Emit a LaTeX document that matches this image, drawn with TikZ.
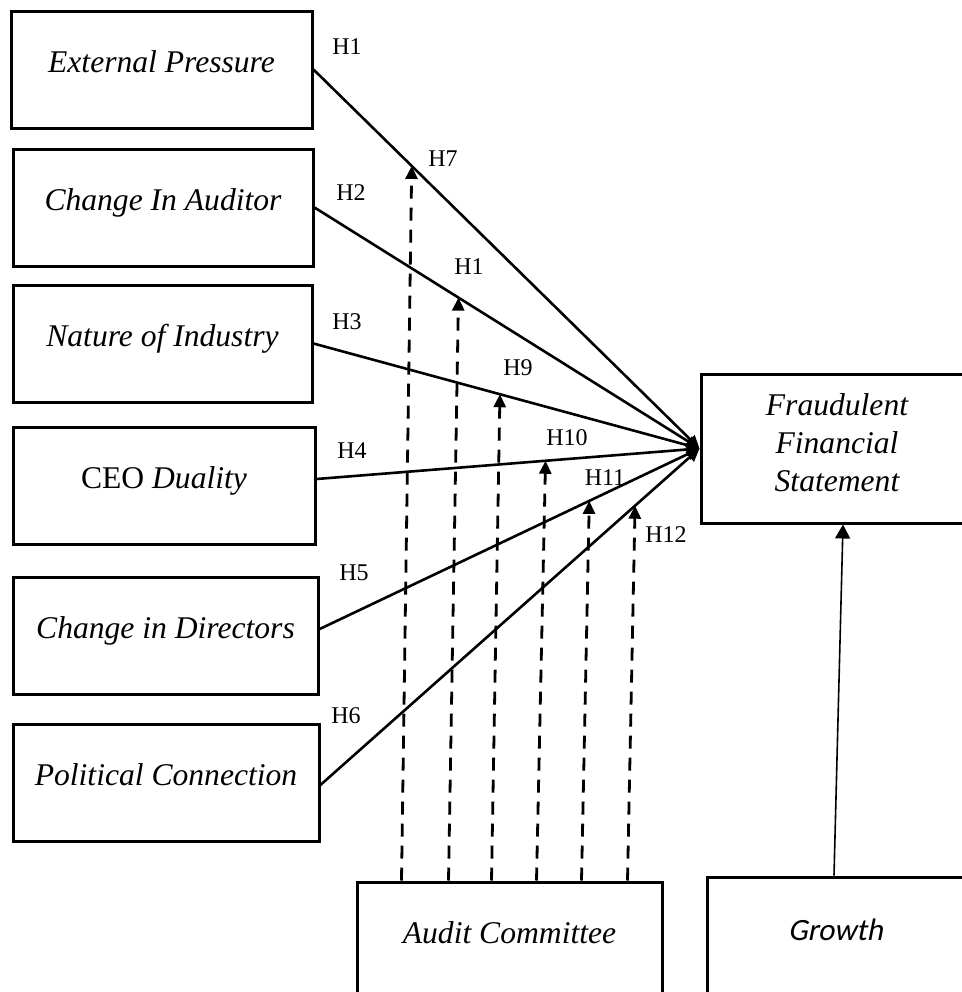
\documentclass[tikz,border=0pt]{standalone}
\usepackage{fontspec}
\setmainfont{Liberation Serif}
\newfontfamily\growthfont[FakeSlant=0.2]{Carlito}
\usepackage{tikz}
\usetikzlibrary{arrows.meta,calc}

\tikzset{
    var/.style={draw, rectangle, line width=1.5pt, minimum height=58.5pt, inner sep=0pt},
    vartext/.style={font=\fontsize{15.8}{19}\selectfont\itshape, text height=11pt, text depth=3.5pt, inner sep=0pt},
    hyp/.style={font=\fontsize{12}{14}\selectfont, inner sep=0pt},
    link/.style={line width=1.3pt, -{Triangle[length=6.5pt,width=6pt]}},
    modlink/.style={line width=1.4pt, dash pattern=on 6.5pt off 4.5pt, -{Triangle[length=6.5pt,width=6pt]}}
}

\begin{document}
\begin{tikzpicture}[x=0.5pt, y=-0.5pt]
    \useasboundingbox (0,0) rectangle (962,992);
    \clip (0,0) rectangle (962,992);

    % Independent variables
    \node [var, minimum width=150.5pt] (ext) at (161.5,69.5) {};
    \node [vartext] (extT) at ([yshift=2.5pt]ext.center) {External Pressure};
    \node [var, minimum width=150pt] (aud) at (163,207.5) {};
    \node [vartext] (audT) at ([yshift=2.5pt]aud.center) {Change In Auditor};
    \node [var, minimum width=149.5pt] (nat) at (162.5,343.5) {};
    \node [vartext] (natT) at ([yshift=2.5pt]nat.center) {Nature of Industry};
    \node [var, minimum width=151pt] (ceo) at (164,486) {};
    \node [vartext] (ceoT) at ([yshift=2.5pt]ceo.center) {\upshape CEO \itshape Duality};
    \node [var, minimum width=152.5pt] (dir) at (165.5,635.5) {};
    \node [vartext] (dirT) at ([yshift=2.5pt]dir.center) {Change in Directors};
    \node [var, minimum width=153pt] (pol) at (166,782.5) {};
    \node [vartext] (polT) at ([yshift=2.5pt]pol.center) {Political Connection};

    % Dependent variable
    \node [var, minimum width=136pt, minimum height=74.5pt] (fin) at (837,448.5) {};
    \node [vartext, text height=, text depth=, align=center] (finT) at ([yshift=2.9pt]fin.center) {Fraudulent\\Financial\\Statement};

    % Moderator and control
    \node [var, minimum width=152.5pt] (com) at (509.5,940.5) {};
    \node [vartext] (comT) at ([yshift=2.5pt]com.center) {Audit Committee};
    \node [var, minimum width=128.5pt] (gro) at (835.5,935.5) {};
    \node [vartext, font=\fontsize{15.5}{19}\selectfont\growthfont] (groT) at ([yshift=1.5pt]gro.center) {Growth};

    % Direct paths
    \coordinate (s1) at (ext.east);
    \coordinate (s2) at (aud.east);
    \coordinate (s3) at (nat.east);
    \coordinate (s4) at ([yshift=3.5pt]ceo.east);
    \coordinate (s5) at ([yshift=3.2pt]dir.east);
    \coordinate (s6) at ([yshift=-1.2pt]pol.east);
    \draw [link] (s1) -- (fin.west);
    \draw [link] (s2) -- (fin.west);
    \draw [link] (s3) -- (fin.west);
    \draw [link] (s4) -- (fin.west);
    \draw [link] (s5) -- (fin.west);
    \draw [link] (s6) -- (fin.west);

    % Moderating paths
    \coordinate (m7) at ($(s1)!0.2545!(fin.west)$);
    \coordinate (m8) at ($(s2)!0.374!(fin.west)$);
    \coordinate (m9) at ($(s3)!0.483!(fin.west)$);
    \coordinate (m10) at ($(s4)!0.598!(fin.west)$);
    \coordinate (m11) at ($(s5)!0.710!(fin.west)$);
    \coordinate (m12) at ($(s6)!0.830!(fin.west)$);
    \draw [modlink] ([xshift=23pt]com.north west) -- (m7);
    \draw [modlink] ([xshift=46.5pt]com.north west) -- (m8);
    \draw [modlink] ([xshift=68pt]com.north west) -- (m9);
    \draw [modlink] ([xshift=90.5pt]com.north west) -- (m10);
    \draw [modlink] ([xshift=113pt]com.north west) -- (m11);
    \draw [modlink] ([xshift=136pt]com.north west) -- (m12);

    % Control path
    \draw [line width=0.8pt, -{Triangle[length=7pt,width=7.5pt]}] ([xshift=-0.75pt]gro.north) -- ([xshift=3pt]fin.south);

    % Hypothesis labels
    \node [hyp] (h1) at (347,47) {H1};
    \node [hyp] (h2) at (351,193) {H2};
    \node [hyp] (h3) at (347,322) {H3};
    \node [hyp] (h4) at (352,451) {H4};
    \node [hyp] (h5) at (354,573) {H5};
    \node [hyp] (h6) at (346,716) {H6};
    \node [hyp] (h7) at (443,159) {H7};
    \node [hyp] (h8) at (469,267) {H1};
    \node [hyp] (h9) at (518,368) {H9};
    \node [hyp] (h10) at (567,438) {H10};
    \node [hyp] (h11) at (605,478) {H11};
    \node [hyp] (h12) at (666,535) {H12};
\end{tikzpicture}
\end{document}
